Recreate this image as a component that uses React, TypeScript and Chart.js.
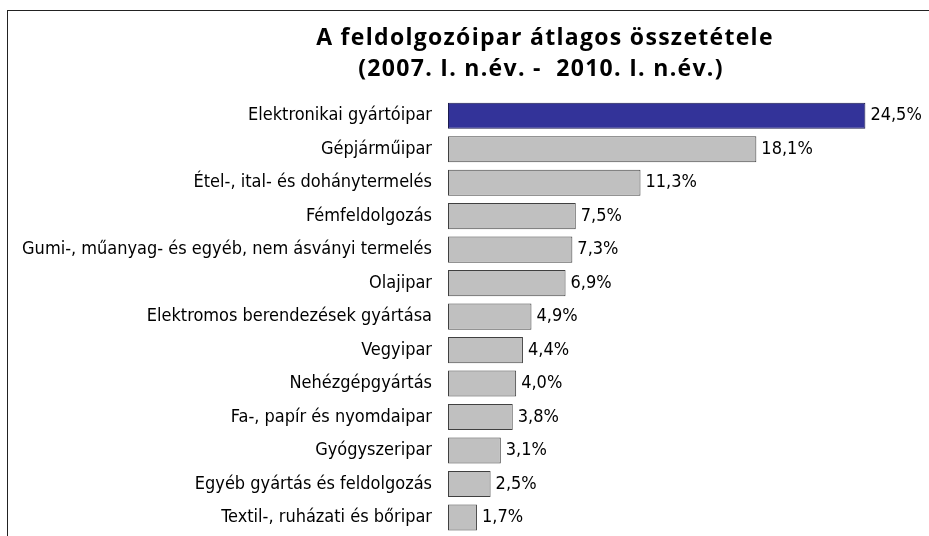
import React, { useEffect, useRef } from "react";
import { Chart, registerables } from "chart.js";

Chart.register(...registerables);

const titleLines = ["A feldolgozóipar átlagos összetétele", "(2007. I. n.év. -  2010. I. n.év.)"];

const categories = [
  "Elektronikai gyártóipar",
  "Gépjárműipar",
  "Étel-, ital- és dohánytermelés",
  "Fémfeldolgozás",
  "Gumi-, műanyag- és egyéb, nem ásványi termelés",
  "Olajipar",
  "Elektromos berendezések gyártása",
  "Vegyipar",
  "Nehézgépgyártás",
  "Fa-, papír és nyomdaipar",
  "Gyógyszeripar",
  "Egyéb gyártás és feldolgozás",
  "Textil-, ruházati és bőripar",
];

const values = [24.5, 18.1, 11.3, 7.5, 7.3, 6.9, 4.9, 4.4, 4.0, 3.8, 3.1, 2.5, 1.7];

const highlightColor = "#333399";
const baseColor = "#C0C0C0";

const condensed = "'Liberation Sans Narrow', 'DejaVu Sans Condensed', 'Roboto Condensed', sans-serif";
const titleFont = "'Open Sans', Lato, sans-serif";

const fmt = (v: number) => v.toFixed(1).replace(".", ",") + "%";

export default function App() {
  const ref = useRef<HTMLCanvasElement | null>(null);

  useEffect(() => {
    if (!ref.current) return;

    const titlePlugin = {
      id: "customTitle",
      afterDraw(chart: any) {
        const ctx = chart.ctx;
        ctx.save();
        ctx.fillStyle = "#000";
        ctx.font = `bold 23px ${titleFont}`;
        ctx.letterSpacing = "1.3px";
        ctx.textAlign = "center";
        ctx.textBaseline = "alphabetic";
        ctx.fillText(titleLines[0], 545, 45);
        ctx.fillText(titleLines[1], 541, 76);
        ctx.restore();
      },
    };

    const valuePlugin = {
      id: "valueLabels",
      afterDatasetsDraw(chart: any) {
        const ctx = chart.ctx;
        const meta = chart.getDatasetMeta(0);
        ctx.save();
        ctx.fillStyle = "#000";
        ctx.font = `18px ${condensed}`;
        ctx.textAlign = "left";
        ctx.textBaseline = "middle";
        meta.data.forEach((bar: any, i: number) => {
          ctx.fillText(fmt(values[i]), bar.x + 5, bar.y);
        });
        ctx.restore();
      },
    };

    const chart = new Chart(ref.current, {
      type: "bar",
      data: {
        labels: categories,
        datasets: [
          {
            data: values,
            backgroundColor: values.map((_, i) => (i === 0 ? highlightColor : baseColor)),
            borderColor: values.map((_, i) => (i === 0 ? "#1a1a4d" : "#404040")),
            borderWidth: 1,
            borderSkipped: false,
            categoryPercentage: 1,
            barPercentage: 0.78,
          },
        ],
      },
      options: {
        indexAxis: "y",
        animation: false,
        responsive: false,
        maintainAspectRatio: false,
        layout: { autoPadding: false, padding: { top: 99, bottom: 3, left: 0, right: 4 } },
        plugins: {
          legend: { display: false },
          title: { display: false },
          tooltip: { enabled: false },
        },
        scales: {
          x: { display: false, min: 0, max: 28 },
          y: {
            grid: { display: false, drawTicks: false },
            border: { display: false },
            ticks: {
              padding: 16,
              color: "#000",
              font: { size: 18, family: condensed },
            },
            afterFit(scale: any) {
              scale.width = 448;
            },
          },
        },
      },
      plugins: [titlePlugin, valuePlugin],
    });

    return () => chart.destroy();
  }, []);

  return (
    <div style={{ position: "fixed", left: 0, top: 0, width: 929, height: 536, overflow: "hidden", background: "#fff" }}>
      <div
        style={{
          position: "absolute",
          left: 7,
          top: 10,
          width: 2000,
          height: 2000,
          borderTop: "1.5px solid #222",
          borderLeft: "1.5px solid #222",
        }}
      />
      <canvas ref={ref} width={929} height={561} style={{ position: "absolute", left: 0, top: 0, width: 929, height: 561 }} />
    </div>
  );
}
